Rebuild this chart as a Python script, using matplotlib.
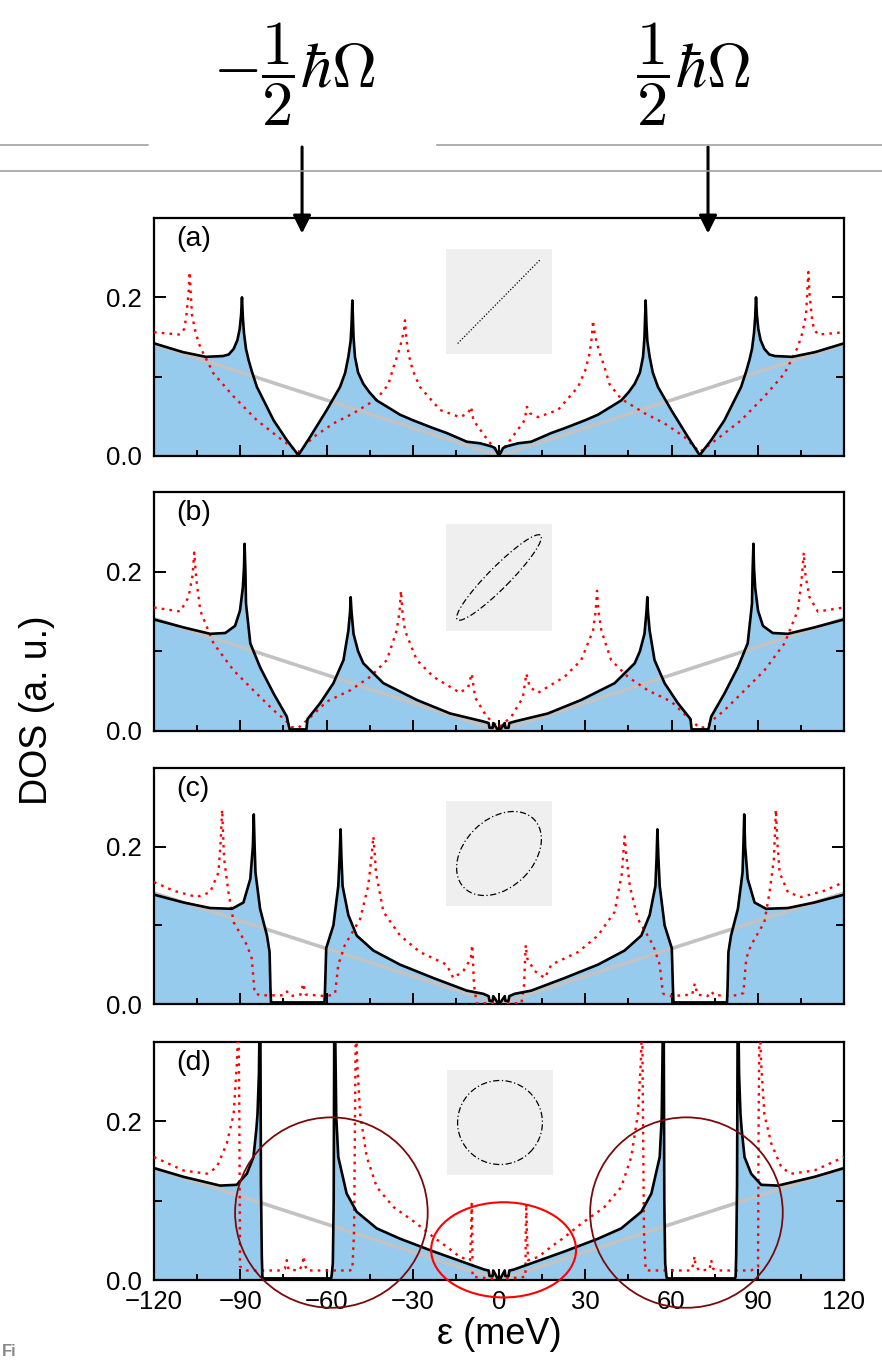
import numpy as np
import matplotlib
matplotlib.use("Agg")
import matplotlib.pyplot as plt
from matplotlib.patches import Ellipse, Rectangle
from matplotlib.lines import Line2D
from matplotlib.ticker import MultipleLocator, FormatStrFormatter

plt.rcParams['font.family'] = ['Liberation Sans', 'DejaVu Sans']
plt.rcParams['mathtext.fontset'] = 'cm'

# Energy (meV) <= 0 half of every curve; the DOS is symmetric about 0
a_black_x = [-120, -110, -102, -96, -94, -92.3, -91.0, -90.2, -89.7, -89.4, -89.1, -88.7, -88.0, -87.1, -86.0,
             -84.2, -78.4, -73.8, -69.8, -65.7, -59.9, -55.3, -53.5, -52.4, -51.6, -51.3, -51.0, -50.6, -50.1,
             -49.0, -47.2, -45.0, -42.5, -34.4, -29.9, -22.8, -18.2, -11.2, -6.6, -2.5, -1.4, 0]
a_black_y = [0.142, 0.131, 0.125, 0.126, 0.128, 0.135, 0.146, 0.160, 0.178, 0.200, 0.175, 0.155, 0.135, 0.121, 0.107,
             0.087, 0.045, 0.020, 0.001, 0.024, 0.058, 0.087, 0.105, 0.125, 0.145, 0.165, 0.196, 0.150, 0.125,
             0.105, 0.091, 0.080, 0.070, 0.052, 0.045, 0.035, 0.029, 0.018, 0.016, 0.012, 0.010, 0.0]
a_red_x = [-120, -111, -109.5, -108.8, -108, -107.6, -107.2, -106.8, -105.5, -103.9, -99.3, -92.3, -84.2, -76.1,
           -69.8, -64.5, -57.6, -50.6, -42.5, -38.5, -36.7, -35.0, -33.8, -33.0, -32.7, -32.3, -31.5, -30.0, -27.5,
           -20.5, -13.6, -10.7, -9.7, -8.9, -4.3, -0.2]
a_red_y = [0.156, 0.153, 0.160, 0.175, 0.205, 0.232, 0.205, 0.178, 0.155, 0.137, 0.104, 0.075, 0.045, 0.022,
           0.005, 0.024, 0.041, 0.054, 0.072, 0.090, 0.112, 0.130, 0.146, 0.160, 0.171, 0.150, 0.129, 0.108, 0.087,
           0.058, 0.049, 0.054, 0.062, 0.045, 0.022, 0.003]

b_black_x = [-120, -109.7, -100.5, -95.2, -91.8, -90.1, -89.1, -88.7, -88.5, -88.2, -88.0, -86.5, -83.1, -78.4,
             -73.8, -73.2, -72.8, -67.0, -66.6, -62.2, -57.6, -54.1, -52.4, -51.8, -51.6, -51.3, -50.6, -49.0,
             -47.2, -40.2, -28.6, -17.0, -5.5, -3.6, -3.3, -2.2, -2.0, -0.5, 0]
b_black_y = [0.140, 0.130, 0.122, 0.123, 0.132, 0.151, 0.180, 0.205, 0.235, 0.200, 0.160, 0.110, 0.080, 0.047,
             0.018, 0.008, 0.002, 0.002, 0.015, 0.035, 0.060, 0.089, 0.126, 0.150, 0.168, 0.150, 0.122, 0.100,
             0.085, 0.060, 0.039, 0.022, 0.012, 0.010, 0.004, 0.004, 0.010, 0.002, 0.0]
b_red_x = [-120, -110.9, -108, -106.6, -106, -105.5, -105.1, -103.9, -99.3, -92.3, -85.4, -78.4, -74.4, -72.1,
           -69.8, -66.3, -59.9, -51.8, -44.8, -39.0, -35.6, -34.6, -34.1, -33.6, -32.7, -28.6, -22.8, -13.6,
           -10.7, -9.5, -8.3, -4.3, -0.2]
b_red_y = [0.155, 0.150, 0.168, 0.195, 0.224, 0.200, 0.185, 0.151, 0.110, 0.076, 0.051, 0.026, 0.014, 0.005,
           0.004, 0.015, 0.037, 0.051, 0.068, 0.089, 0.126, 0.150, 0.176, 0.150, 0.126, 0.089, 0.068, 0.048,
           0.055, 0.072, 0.042, 0.018, 0.005]

c_black_x = [-120, -109.7, -100.5, -92.9, -88.9, -86.5, -85.6, -85.3, -85.0, -84.7, -83.1, -80.7, -79.8, -79.5,
             -79.3, -60.7, -60.5, -60.1, -57.6, -55.9, -55.4, -55.1, -54.8, -54.4, -52.4, -49.5, -43.7, -34.4,
             -22.8, -11.2, -5.5, -3.6, -3.3, -2.2, -2.0, -0.5, 0]
c_black_y = [0.139, 0.129, 0.122, 0.121, 0.129, 0.159, 0.201, 0.241, 0.200, 0.167, 0.121, 0.087, 0.066, 0.020,
             0.002, 0.002, 0.020, 0.071, 0.100, 0.150, 0.190, 0.222, 0.185, 0.150, 0.113, 0.087, 0.068, 0.050,
             0.033, 0.017, 0.013, 0.010, 0.004, 0.004, 0.010, 0.002, 0.0]
c_red_x = [-120, -113.2, -105.1, -100.5, -97.6, -96.9, -96.3, -95.9, -95.6, -94.1, -92.3, -87.7, -86.0, -85.0,
           -83.1, -75.0, -73.8, -72.5, -69.0, -68.1, -67.2, -60.0, -57.6, -57.0, -55.9, -53.6, -48.3, -45.5,
           -44.3, -43.7, -43.2, -42.8, -40.2, -34.4, -27.5, -18.2, -15.9, -12.4, -9.8, -9.3, -8.7, -7.8, -0.2]
c_red_y = [0.155, 0.144, 0.136, 0.142, 0.167, 0.201, 0.247, 0.210, 0.184, 0.142, 0.104, 0.075, 0.058, 0.014,
           0.011, 0.011, 0.016, 0.010, 0.012, 0.026, 0.012, 0.010, 0.012, 0.014, 0.050, 0.075, 0.108, 0.150,
           0.188, 0.213, 0.190, 0.167, 0.117, 0.087, 0.066, 0.050, 0.033, 0.042, 0.058, 0.075, 0.024, 0.001, 0.001]

d_black_x = [-120, -109.7, -97.0, -91.2, -87.7, -85.4, -84.4, -84.0, -83.5, -83.3, -83.0, -82.8, -82.5, -82.3,
             -82.0, -58.4, -58.2, -57.8, -57.5, -57.3, -57.0, -56.6, -55.9, -53.0, -49.5, -42.5, -34.4, -22.8,
             -11.2, -5.0, -3.6, -3.3, -2.2, -2.0, -0.5, 0]
d_black_y = [0.141, 0.130, 0.119, 0.120, 0.134, 0.155, 0.190, 0.209, 0.260, 0.32, 0.32, 0.12, 0.03, 0.004,
             0.002, 0.002, 0.006, 0.021, 0.10, 0.32, 0.32, 0.205, 0.155, 0.109, 0.086, 0.065, 0.052, 0.036,
             0.021, 0.013, 0.012, 0.005, 0.005, 0.012, 0.002, 0.0]
d_red_x = [-120, -109.7, -101.6, -98.2, -94.7, -92.3, -91.2, -90.6, -90.3, -90.1, -87.7, -76, -74.5, -73.8,
           -73.2, -69.5, -68.3, -68.0, -67.6, -66.8, -52, -51.0, -50.4, -50.1, -49.8, -49.3, -48.3, -46.0, -42.5,
           -36.7, -28.6, -22.8, -18.2, -13.6, -10.1, -9.7, -9.5, -9.3, -9.2, -0.2]
d_red_y = [0.155, 0.138, 0.134, 0.142, 0.172, 0.209, 0.272, 0.33, 0.20, 0.017, 0.012, 0.012, 0.014, 0.025,
           0.013, 0.012, 0.020, 0.030, 0.020, 0.012, 0.012, 0.013, 0.063, 0.20, 0.33, 0.272, 0.209, 0.155, 0.117,
           0.092, 0.071, 0.054, 0.042, 0.029, 0.025, 0.060, 0.096, 0.060, 0.004, 0.001]

# bare linear DOS (grey)
gray_x = [-120, 0, 120]
gray_y = [0.141, 0.0, 0.141]

panel_labels = ['(a)', '(b)', '(c)', '(d)']
# orbit shape in the insets: minor/major axis ratio
orbit_ratio = [0.0, 0.18, 0.7, 1.0]

xticks = [-120, -90, -60, -30, 0, 30, 60, 90, 120]
yticks = [0.0, 0.2]

blacks = [(a_black_x, a_black_y), (b_black_x, b_black_y), (c_black_x, c_black_y), (d_black_x, d_black_y)]
reds = [(a_red_x, a_red_y), (b_red_x, b_red_y), (c_red_x, c_red_y), (d_red_x, d_red_y)]


def mirror(x, y):
    x = np.asarray(x, float)
    y = np.asarray(y, float)
    return np.concatenate([x, -x[::-1]]), np.concatenate([y, y[::-1]])


W, H = 882, 1360
fig = plt.figure(figsize=(W / 100, H / 100), dpi=100)

# panel boxes in pixels (top, bottom) and inset boxes (left, top, right, bottom)
panel_px = [(218, 456), (492, 731), (768, 1004), (1042, 1280)]
inset_px = [(446, 249, 552, 354), (446, 524, 552, 631), (446, 801, 552, 906), (447, 1070, 553, 1175)]
left_px, right_px = 154, 844

axes = []
for i in range(4):
    top, bot = panel_px[i]
    ax = fig.add_axes([left_px / W, 1 - bot / H, (right_px - left_px) / W, (bot - top) / H])
    axes.append(ax)

    bx, by = mirror(*blacks[i])
    rx, ry = mirror(*reds[i])
    ax.fill_between(bx, 0, by, color='#96cbee', lw=0, zorder=1)
    ax.plot(gray_x, gray_y, color='#c2c2c2', lw=2.6, zorder=2)
    ax.plot(rx, ry, color='red', lw=1.7, ls=(0, (1.1, 2.2)), zorder=3)
    ax.plot(bx, by, color='black', lw=1.9, zorder=4)

    ax.set_xlim(-120, 120)
    ax.set_ylim(0, 0.3)
    ax.set_xticks(xticks)
    ax.xaxis.set_minor_locator(MultipleLocator(15))
    ax.set_yticks(yticks)
    ax.yaxis.set_minor_locator(MultipleLocator(0.1))
    ax.tick_params(axis='x', which='both', direction='in', top=False, bottom=True, width=1.4,
                   labelsize=18.5, pad=7)
    ax.tick_params(axis='x', which='major', length=8)
    ax.tick_params(axis='x', which='minor', length=4.3)
    ax.tick_params(axis='y', which='both', direction='in', left=True, right=True, width=1.4,
                   labelsize=18.5, pad=9)
    ax.tick_params(axis='y', which='major', length=8.6)
    ax.tick_params(axis='y', which='minor', length=5.5)
    ax.yaxis.set_major_formatter(FormatStrFormatter('%.1f'))
    if i < 3:
        ax.tick_params(axis='x', labelbottom=False)
    for s in ax.spines.values():
        s.set_linewidth(1.6)
    ax.text(0.032, 0.965, panel_labels[i], transform=ax.transAxes, fontsize=20.5, va='top', ha='left')

    # inset with the orbit shape
    l, t, r, b = inset_px[i]
    iax = fig.add_axes([l / W, 1 - b / H, (r - l) / W, (b - t) / H])
    iax.set_xlim(0, 1)
    iax.set_ylim(0, 1)
    iax.set_axis_off()
    iax.add_patch(Rectangle((0, 0), 1, 1, color='#efefef', zorder=0))
    q = orbit_ratio[i]
    semi = 0.4 * np.sqrt(2 / (1 + q ** 2))
    if q == 0:
        iax.plot([0.5 - 0.39, 0.5 + 0.39], [0.5 - 0.4, 0.5 + 0.4], color='black', lw=0.9, ls=(0, (1, 1.5)))
    else:
        iax.add_patch(Ellipse((0.5, 0.5), 2 * semi, 2 * semi * q, angle=45, fill=False,
                              ec='black', lw=0.9, ls=(0, (5, 2, 1, 2))))

axes[3].set_xlabel(u'\u03b5 (meV)', fontsize=26, labelpad=2)
fig.text(37 / W, 1 - 710 / H, 'DOS (a. u.)', rotation=90, fontsize=27, ha='center', va='center')

# highlight circles in panel (d)
axd = axes[3]
for cx in (-58.3, 65.2):
    axd.add_patch(Ellipse((cx, 0.085), 67, 0.24, fill=False, ec='#7a0a0a', lw=1.3, clip_on=False, zorder=6))
axd.add_patch(Ellipse((1.6, 0.038), 50.4, 0.12, fill=False, ec='red', lw=1.5, clip_on=False, zorder=6))

# half phonon energy markers above panel (a)
axa = axes[0]
for xa in (-68.5, 72.7):
    axa.annotate('', xy=(xa, 0.2805), xycoords='data', xytext=(xa, 1 - 147 / H),
                 textcoords=('data', 'figure fraction'),
                 arrowprops=dict(arrowstyle='-|>', color='black', lw=2.2, mutation_scale=27,
                                 shrinkA=0, shrinkB=0))
fig.text(295 / W, 1 - 74 / H, r'$-\dfrac{1}{2}\hbar\Omega$', fontsize=45, ha='center', va='center')
fig.text(693 / W, 1 - 74 / H, r'$\dfrac{1}{2}\hbar\Omega$', fontsize=45, ha='center', va='center')

# page rules
rule = '#9a9a9a'
fig.add_artist(Line2D([0, 148 / W], [1 - 145 / H] * 2, color=rule, lw=1.1))
fig.add_artist(Line2D([437 / W, 1], [1 - 145 / H] * 2, color=rule, lw=1.1))
fig.add_artist(Line2D([0, 1], [1 - 171 / H] * 2, color=rule, lw=1.1))

fig.text(0.002, 0.001, 'Fi', color='#888888', fontsize=12, fontweight='bold', ha='left', va='bottom')

fig.savefig('out.png', dpi=100)
